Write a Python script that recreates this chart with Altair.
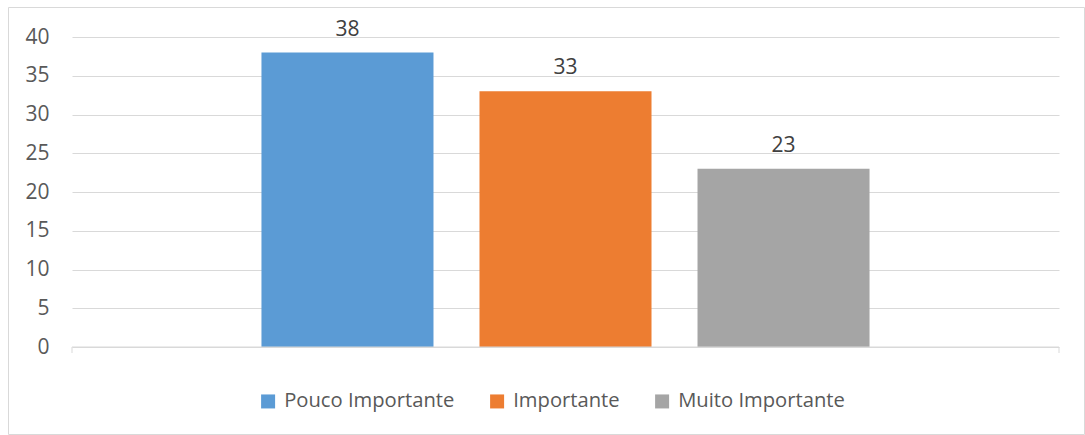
import altair as alt
import pandas as pd

series = ["Pouco Importante", "Importante", "Muito Importante"]
values = [38, 33, 23]
colors = ["#5B9BD5", "#ED7D31", "#A5A5A5"]
y_ticks = [0, 5, 10, 15, 20, 25, 30, 35, 40]

df = pd.DataFrame({"serie": series, "valor": values})

W, H = 987, 310
FONT = "Open Sans"
TXT = "#595959"
GRID = "#D9D9D9"

xenc = alt.X("serie:N", sort=series, axis=None,
             scale=alt.Scale(paddingInner=0.211, paddingOuter=0.869))
yenc = alt.Y("valor:Q", scale=alt.Scale(domain=[0, 40]),
             axis=alt.Axis(values=y_ticks, title=None, domain=False, ticks=False,
                           grid=True, gridColor=GRID, gridWidth=1,
                           labelFont=FONT, labelFontSize=21, labelColor=TXT,
                           labelPadding=23, labelOverlap=False, labelBound=False))

base = alt.Chart(df)

bars = base.mark_bar().encode(
    x=xenc, y=yenc,
    color=alt.Color("serie:N", sort=series,
                    scale=alt.Scale(domain=series, range=colors),
                    legend=alt.Legend(title=None, orient="none", direction="horizontal",
                                      legendX=186, legendY=354,
                                      symbolType="square", symbolSize=196,
                                      symbolStrokeWidth=0,
                                      labelFont=FONT, labelFontSize=20.2,
                                      labelColor=TXT, labelOffset=6,
                                      labelLimit=400,
                                      columnPadding=32))
)

labels = base.mark_text(baseline="alphabetic", dy=-17, font=FONT, fontSize=21,
                        color="#404040").encode(
    x=xenc, y=yenc, text="valor:Q")

one = alt.Chart(pd.DataFrame({"a": [0]}))
axis_line = one.mark_rule(color=GRID, strokeWidth=1).encode(
    x=alt.value(0), x2=alt.value(W), y=alt.value(H))
tick_l = one.mark_rule(color=GRID, strokeWidth=1).encode(
    x=alt.value(0), y=alt.value(H), y2=alt.value(H + 6))
tick_r = one.mark_rule(color=GRID, strokeWidth=1).encode(
    x=alt.value(W), y=alt.value(H), y2=alt.value(H + 6))
border = one.mark_rect(fill=None, stroke=GRID, strokeWidth=1).encode(
    x=alt.value(-63.5), x2=alt.value(1012.5), y=alt.value(-29.5), y2=alt.value(397.5))

chart = alt.layer(border, bars, axis_line, tick_l, tick_r, labels).properties(
    width=W, height=H,
    autosize=alt.AutoSizeParams(type="none"),
    padding={"left": 72, "top": 37, "right": 26, "bottom": 88},
    background="white",
).configure_view(stroke=None).configure_axis(labelOverlap=False)

chart.save("out.html", embed_options={"renderer": "svg", "actions": False})
